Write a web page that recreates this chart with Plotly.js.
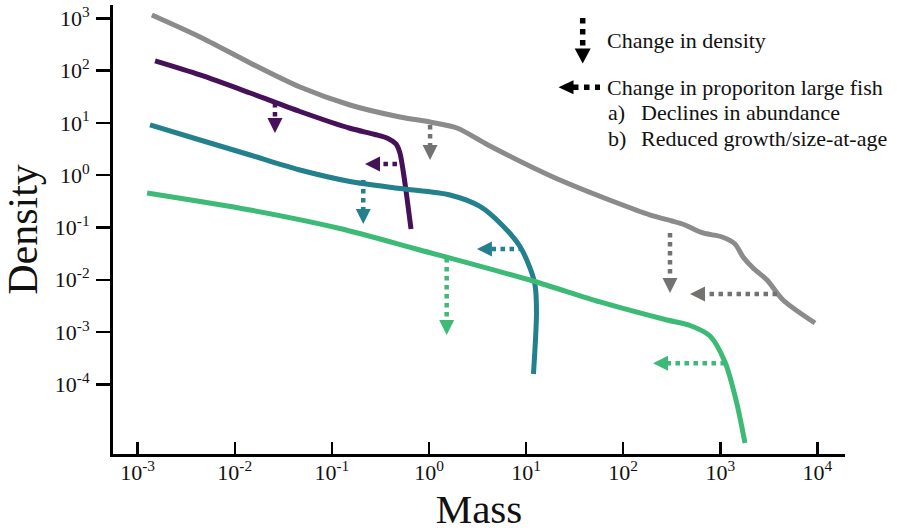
<!DOCTYPE html>
<html><head><meta charset="utf-8">
<script src="https://cdn.plot.ly/plotly-3.0.1.min.js"></script>
<style>html,body{margin:0;padding:0;background:#fff;} #chart{width:897px;height:532px;}</style>
</head><body><div id="chart"></div>
<script>
// ---- data ----
const grayMass = [1.40e-3, 4.39e-3, 1.44e-2, 4.69e-2, 0.1535, 0.502, 1.023, 1.941, 4.055, 18.92, 92.7, 202.8, 318.4, 432.5, 663.7, 1042, 1416, 1714, 2173, 3027, 4426, 9441];
const grayDensity = [1156, 439, 140, 48.5, 22.0, 12.97, 10.4, 7.98, 3.776, 0.925, 0.281, 0.166, 0.133, 0.1117, 0.0785, 0.0658, 0.0484, 0.0273, 0.01683, 0.00991, 0.00411, 0.00149];

const purpleMass = [1.51e-3, 4.39e-3, 1.44e-2, 4.69e-2, 0.1535, 0.278, 0.378, 0.457, 0.502, 0.540, 0.579, 0.653];
const purpleDensity = [152.8, 82.4, 37.3, 16.5, 7.89, 6.0, 5.035, 3.954, 2.655, 1.256, 0.521, 0.0935];

const tealMass = [1.34e-3, 4.39e-3, 1.44e-2, 4.69e-2, 0.1535, 0.502, 1.644, 3.35, 5.78, 8.65, 10.96, 12.36, 12.79, 11.91];
const tealDensity = [9.12, 4.71, 2.432, 1.256, 0.759, 0.557, 0.418, 0.2523, 0.1069, 0.04335, 0.01683, 0.00796, 0.002317, 0.000158];

const greenMass = [1.25e-3, 1.44e-2, 0.1211, 0.807, 11.78, 57.7, 282.5, 487.5, 783.4, 1117, 1469, 1795];
const greenDensity = [0.457, 0.2163, 0.0957, 0.03715, 0.00948, 0.003767, 0.001702, 0.001337, 0.000841, 0.000268, 4.6e-5, 7.59e-6];

// vertical arrows (change in density): mass, start density, tip density
const downArrowSeries = ['purple', 'gray', 'teal', 'green', 'gray'];
const downArrowMass = [0.02594, 1.026, 0.2104, 1.521, 303.4];
const downArrowStart = [24.0, 9.12, 0.809, 0.02612, 0.0785];
const downArrowTip = [6.41, 1.954, 0.1167, 0.000881, 0.0056];

// horizontal arrows (change in proportion large fish): density, start mass, tip mass
const leftArrowSeries = ['purple', 'teal', 'gray', 'green'];
const leftArrowDensity = [1.637, 0.0388, 0.00535, 0.000253];
const leftArrowStart = [0.4677, 9.29, 3837, 1117];
const leftArrowTip = [0.2193, 3.119, 487.5, 202.8];

const xTickPowers = [-3, -2, -1, 0, 1, 2, 3, 4];
const yTickPowers = [-4, -3, -2, -1, 0, 1, 2, 3];

const legendTexts = ['Change in density', 'Change in proporiton large fish', 'a)', 'Declines in abundance', 'b)', 'Reduced growth/size-at-age'];

// ---- styles ----
const lineColors = {gray: '#8b8b8b', purple: '#461158', teal: '#23818d', green: '#3cba76'};
const arrowColors = {gray: '#747171', purple: '#461158', teal: '#23818d', green: '#3cba76'};
const FONT = 'Liberation Serif';

const M = {l: 113, r: 52, t: 5, b: 78};
const W = 897, H = 532;
const plotW = W - M.l - M.r, plotH = H - M.t - M.b;
const xRange = [-3.254, 4.284];
const yRange = [-5.331, 3.254];
const pxPerDecX = plotW / (xRange[1] - xRange[0]);
const pxPerDecY = plotH / (yRange[1] - yRange[0]);
const HEAD = 15;

function sup(p) { return '10<sup>' + p + '</sup>'; }

const traces = [];
function curve(x, y, c) {
  traces.push({x: x, y: y, type: 'scatter', mode: 'lines',
    line: {color: c, width: 5, shape: 'spline', smoothing: 0.8}, hoverinfo: 'skip'});
}
curve(grayMass, grayDensity, lineColors.gray);
curve(purpleMass, purpleDensity, lineColors.purple);
curve(tealMass, tealDensity, lineColors.teal);
curve(greenMass, greenDensity, lineColors.green);

const shapes = [];
// down arrows
downArrowMass.forEach((m, i) => {
  const c = arrowColors[downArrowSeries[i]];
  const base = downArrowTip[i] * Math.pow(10, HEAD / pxPerDecY);
  traces.push({x: [m, m], y: [downArrowStart[i], base], type: 'scatter', mode: 'lines',
    line: {color: c, width: 4.5, dash: 'dot'}, hoverinfo: 'skip'});
  shapes.push({type: 'path', xref: 'x', yref: 'y', xsizemode: 'pixel', ysizemode: 'pixel',
    xanchor: m, yanchor: downArrowTip[i], path: 'M-7.5,15L7.5,15L0,0Z',
    fillcolor: c, line: {width: 0}});
});
// left arrows
leftArrowDensity.forEach((d, i) => {
  const c = arrowColors[leftArrowSeries[i]];
  const base = leftArrowTip[i] * Math.pow(10, HEAD / pxPerDecX);
  traces.push({x: [leftArrowStart[i], base], y: [d, d], type: 'scatter', mode: 'lines',
    line: {color: c, width: 4.5, dash: 'dot'}, hoverinfo: 'skip'});
  shapes.push({type: 'path', xref: 'x', yref: 'y', xsizemode: 'pixel', ysizemode: 'pixel',
    xanchor: leftArrowTip[i], yanchor: d, path: 'M15,-7.5L15,7.5L0,0Z',
    fillcolor: c, line: {width: 0}});
});

// legend symbols (paper coordinates)
function px2paperX(px) { return (px - M.l) / plotW; }
function px2paperY(py) { return 1 - (py - M.t) / plotH; }
shapes.push({type: 'line', xref: 'paper', yref: 'paper',
  x0: px2paperX(582.7), x1: px2paperX(582.7), y0: px2paperY(18), y1: px2paperY(49),
  line: {color: '#000', width: 5.5, dash: 'dot'}});
shapes.push({type: 'path', xref: 'paper', yref: 'paper', xsizemode: 'pixel', ysizemode: 'pixel',
  xanchor: px2paperX(582.7), yanchor: px2paperY(63.5), path: 'M-8,15L8,15L0,0Z',
  fillcolor: '#000', line: {width: 0}});
shapes.push({type: 'line', xref: 'paper', yref: 'paper',
  x0: px2paperX(573), x1: px2paperX(600), y0: px2paperY(87.3), y1: px2paperY(87.3),
  line: {color: '#000', width: 5.5, dash: 'dot'}});
shapes.push({type: 'path', xref: 'paper', yref: 'paper', xsizemode: 'pixel', ysizemode: 'pixel',
  xanchor: px2paperX(558.5), yanchor: px2paperY(87.3), path: 'M15,-7L15,7L0,0Z',
  fillcolor: '#000', line: {width: 0}});

const legendPos = [[605, 40.5], [605, 87.3], [606, 112], [639, 112], [606, 138], [639, 138]];
const annotations = legendTexts.map((t, i) => ({
  text: t, xref: 'paper', yref: 'paper', x: px2paperX(legendPos[i][0]), y: px2paperY(legendPos[i][1]),
  xanchor: 'left', yanchor: 'middle', showarrow: false,
  font: {family: FONT, size: 22, color: '#111'}
}));

const layout = {
  width: W, height: H,
  margin: M,
  font: {family: FONT, color: '#111'},
  paper_bgcolor: '#fff', plot_bgcolor: '#fff',
  showlegend: false, hovermode: false,
  xaxis: {
    type: 'log', range: xRange, showgrid: false, zeroline: false,
    showline: true, linecolor: '#000', linewidth: 3,
    ticks: 'inside', ticklen: 12, tickwidth: 2.5, tickcolor: '#000',
    tickvals: xTickPowers.map(p => Math.pow(10, p)), ticktext: xTickPowers.map(sup),
    tickfont: {family: FONT, size: 22, color: '#111'},
    ticklabelstandoff: -3,
    title: {text: 'Mass', font: {family: FONT, size: 41, color: '#111'}, standoff: 16},
    automargin: false
  },
  yaxis: {
    type: 'log', range: yRange, showgrid: false, zeroline: false,
    showline: true, linecolor: '#000', linewidth: 3,
    ticks: 'outside', ticklen: 14, tickwidth: 2.5, tickcolor: '#000',
    tickvals: yTickPowers.map(p => Math.pow(10, p)), ticktext: yTickPowers.map(sup),
    tickfont: {family: FONT, size: 22, color: '#111'},
    ticklabelstandoff: 2,
    title: {text: 'Density', font: {family: FONT, size: 42, color: '#111'}, standoff: 8},
    automargin: false
  },
  shapes: shapes,
  annotations: annotations
};

Plotly.newPlot('chart', traces, layout, {displayModeBar: false, staticPlot: true});
</script>
</body></html>
